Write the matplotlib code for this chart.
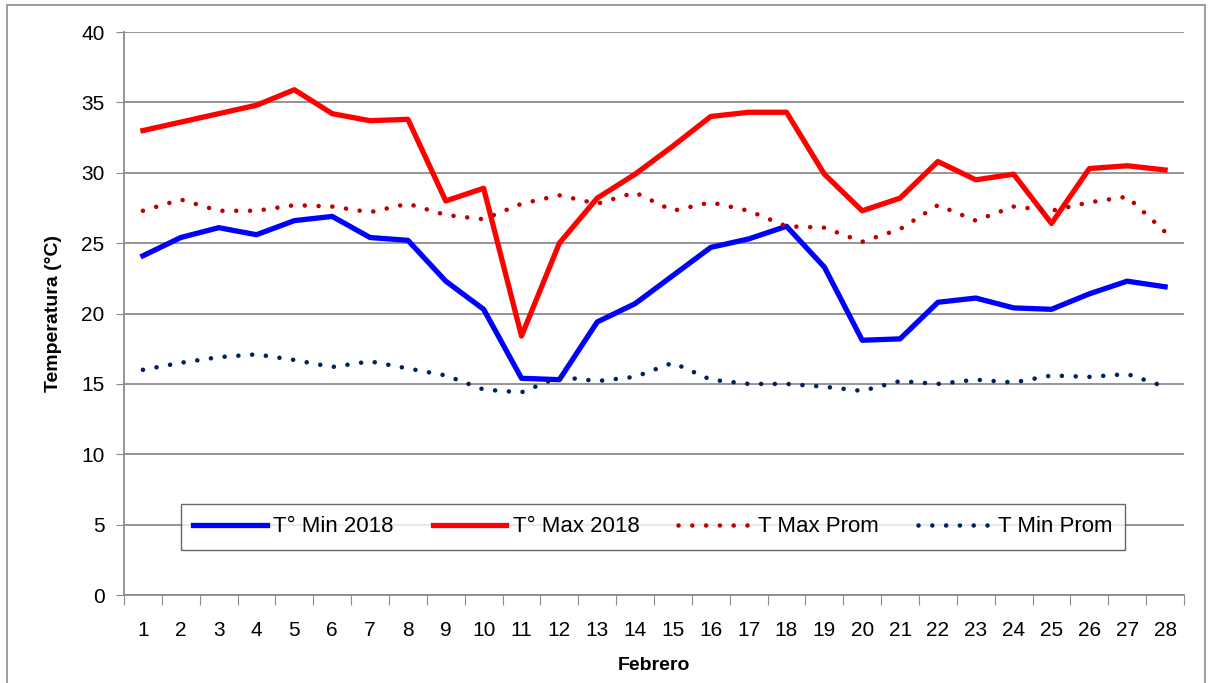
import matplotlib.pyplot as plt
from matplotlib.patches import Rectangle

days = list(range(1, 29))

t_min_2018 = [24.1, 25.4, 26.1, 25.6, 26.6, 26.9, 25.4, 25.2, 22.3, 20.3,
              15.4, 15.3, 19.4, 20.7, 22.7, 24.7, 25.3, 26.2, 23.3, 18.1,
              18.2, 20.8, 21.1, 20.4, 20.3, 21.4, 22.3, 21.9]
t_max_2018 = [33.0, 33.6, 34.2, 34.8, 35.9, 34.2, 33.7, 33.8, 28.0, 28.9,
              18.4, 25.0, 28.2, 29.9, 31.9, 34.0, 34.3, 34.3, 29.9, 27.3,
              28.2, 30.8, 29.5, 29.9, 26.4, 30.3, 30.5, 30.2]
t_max_prom = [27.3, 28.1, 27.3, 27.3, 27.7, 27.6, 27.2, 27.8, 27.0, 26.7,
              27.8, 28.4, 27.8, 28.6, 27.3, 27.9, 27.3, 26.2, 26.1, 25.1,
              26.0, 27.7, 26.6, 27.6, 27.3, 27.9, 28.3, 25.8]
t_min_prom = [16.0, 16.5, 16.9, 17.1, 16.7, 16.2, 16.6, 16.1, 15.6, 14.6,
              14.4, 15.5, 15.2, 15.5, 16.5, 15.3, 15.0, 15.0, 14.8, 14.5,
              15.2, 15.0, 15.3, 15.1, 15.6, 15.5, 15.7, 14.8]

plt.rcParams['font.family'] = ['Liberation Sans', 'DejaVu Sans']

fig = plt.figure(figsize=(12.12, 6.83), dpi=100)
ax = fig.add_axes([0.1023, 0.1288, 0.8746, 0.8243])

# outer frame of the chart
fig.patches.append(Rectangle((0.006, -0.01), 0.988, 1.003, transform=fig.transFigure,
                             fill=False, edgecolor='#8c8c8c', linewidth=1.2))

dots = (0, (0.01, 3.0))
ax.plot(days, t_min_2018, color='#0000FF', lw=3.8, label='T° Min 2018')
ax.plot(days, t_max_2018, color='#FF0000', lw=3.8, label='T° Max 2018')
ax.plot(days, t_max_prom, color='#C00000', lw=3.3, ls=dots, dash_capstyle='round', label='T Max Prom')
ax.plot(days, t_min_prom, color='#002060', lw=3.3, ls=dots, dash_capstyle='round', label='T Min Prom')

ax.set_xlim(0.5, 28.5)
ax.set_ylim(0, 40)
ax.set_yticks(range(0, 41, 5))
ax.set_xticks([d + 0.5 for d in [0] + days])
ax.set_xticklabels([])
ax.set_xticks(days, minor=True)
ax.set_xticklabels([str(d) for d in days], minor=True)
ax.tick_params(axis='x', which='minor', length=0, labelsize=15, pad=19)
ax.tick_params(axis='x', which='major', length=7, color='#8c8c8c', direction='out')
ax.tick_params(axis='y', length=6, color='#8c8c8c', labelsize=15, pad=8)

ax.grid(axis='y', color='#8c8c8c', lw=1.3)
ax.set_axisbelow(True)
for s in ['top', 'right']:
    ax.spines[s].set_visible(False)
for s in ['left', 'bottom']:
    ax.spines[s].set_color('#8c8c8c')
    ax.spines[s].set_linewidth(1.3)

ax.set_xlabel('Febrero', fontsize=14, fontweight='bold', labelpad=12)
ax.set_ylabel('Temperatura (°C)', fontsize=14, fontweight='bold', labelpad=14)

leg = ax.legend(loc='center', bbox_to_anchor=(0.499, 0.121), ncol=4, fontsize=16,
                frameon=True, fancybox=False, edgecolor='#404040', handlelength=3.3,
                columnspacing=1.75, handletextpad=0.3, borderpad=0.55, borderaxespad=0)
leg.get_frame().set_linewidth(1.0)

fig.savefig('out.png', dpi=100)
